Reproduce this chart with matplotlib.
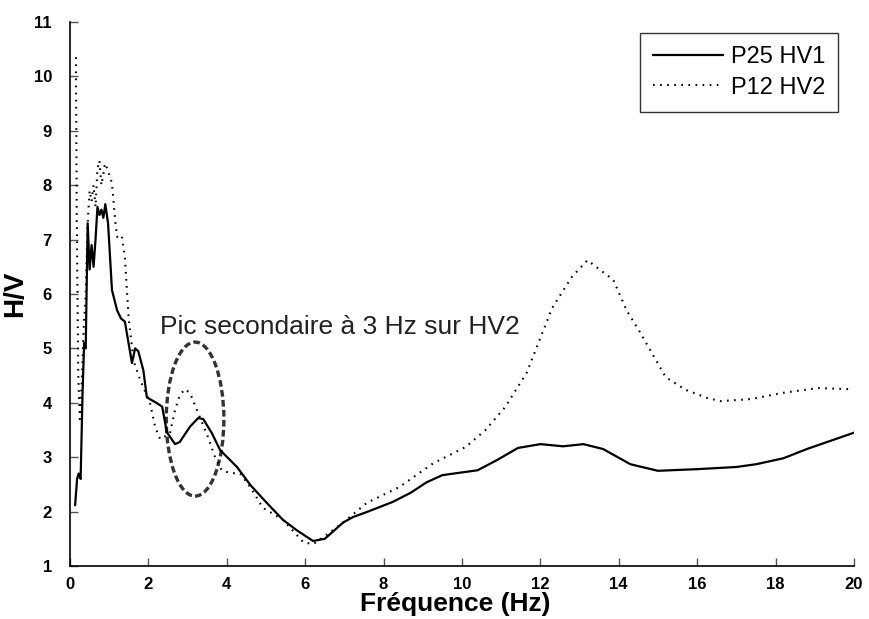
import matplotlib
matplotlib.use("Agg")
import matplotlib.pyplot as plt
from matplotlib.patches import Ellipse

freq_hv1 = [0.13, 0.18, 0.22, 0.27, 0.32, 0.36, 0.4, 0.45, 0.5, 0.55, 0.6, 0.65, 0.7, 0.75, 0.8,
            0.85, 0.9, 0.97, 1.07, 1.2, 1.3, 1.4, 1.48, 1.58, 1.66, 1.74, 1.87, 1.96, 2.2, 2.35,
            2.47, 2.68, 2.8, 3.06, 3.27, 3.4, 3.62, 3.83, 4.26, 4.6, 5.02, 5.43, 5.78, 6.2, 6.5,
            6.97, 7.22, 7.6, 8.24, 8.7, 9.1, 9.5, 10.4, 10.9, 11.43, 12.0, 12.58, 13.1, 13.6,
            14.3, 15.0, 16.0, 17.0, 17.5, 18.2, 18.8, 19.4, 20.0]
hv1 = [2.12, 2.6, 2.7, 2.6, 4.2, 5.1, 5.0, 7.3, 6.45, 6.9, 6.5, 7.0, 7.6, 7.45, 7.55,
       7.4, 7.65, 7.3, 6.07, 5.7, 5.55, 5.49, 5.15, 4.73, 5.0, 4.95, 4.6, 4.1, 4.0, 3.93,
       3.46, 3.24, 3.28, 3.56, 3.72, 3.7, 3.44, 3.13, 2.82, 2.49, 2.16, 1.85, 1.66, 1.46, 1.5,
       1.8, 1.9, 2.0, 2.18, 2.35, 2.54, 2.67, 2.76, 2.95, 3.17, 3.24, 3.2, 3.24, 3.15,
       2.87, 2.75, 2.78, 2.82, 2.87, 2.98, 3.15, 3.3, 3.45]

freq_hv2 = [0.15, 0.16, 0.17, 0.19, 0.21, 0.25, 0.3, 0.35, 0.4, 0.45, 0.5, 0.55, 0.6, 0.65, 0.7,
            0.75, 0.8, 0.85, 0.89, 0.95, 1.07, 1.15, 1.2, 1.32, 1.4, 1.45, 1.5, 1.58, 1.62, 1.8,
            2.04, 2.17, 2.3, 2.55, 2.68, 2.8, 2.93, 3.06, 3.27, 3.52, 3.7, 3.87, 4.08, 4.34,
            4.6, 4.92, 5.43, 5.95, 6.2, 6.5, 6.97, 7.57, 8.4, 9.27, 10.1, 10.6, 11.1, 11.65,
            11.95, 12.3, 12.8, 13.2, 13.86, 14.2, 14.54, 14.92, 15.2, 15.7, 16.25, 16.6, 17.4,
            18.16, 19.08, 19.9]
hv2 = [10.35, 9.0, 7.5, 6.0, 4.5, 3.7, 4.4, 5.4, 6.0, 7.3, 7.9, 7.7, 8.0, 7.6, 8.3,
       8.45, 8.0, 8.2, 8.4, 8.3, 8.04, 7.36, 7.05, 7.08, 6.68, 6.07, 5.52, 5.03, 4.77, 4.4,
       4.0, 3.56, 3.33, 3.44, 3.87, 4.14, 4.25, 4.18, 3.81, 3.37, 3.0, 2.76, 2.71, 2.7,
       2.45, 2.07, 1.85, 1.44, 1.4, 1.55, 1.8, 2.16, 2.45, 2.89, 3.19, 3.5, 3.92, 4.55,
       5.1, 5.74, 6.31, 6.62, 6.26, 5.7, 5.3, 4.82, 4.47, 4.24, 4.09, 4.03, 4.07,
       4.18, 4.27, 4.25]

x_ticks = [0, 2, 4, 6, 8, 10, 12, 14, 16, 18, 20]
y_ticks = [1, 2, 3, 4, 5, 6, 7, 8, 9, 10, 11]

fig = plt.figure(figsize=(8.7, 6.19), dpi=100)
ax = fig.add_axes([0.0805, 0.0856, 0.901, 0.879])

ax.plot(freq_hv1, hv1, color="black", lw=1.6, label="P25 HV1")
ax.plot(freq_hv2, hv2, color="black", lw=1.5, linestyle=(0, (0.8, 2.6)), label="P12 HV2")

ax.set_xlim(0, 20)
ax.set_ylim(1, 11)
ax.set_xticks(x_ticks)
ax.set_yticks(y_ticks)
for s in ["top", "right"]:
    ax.spines[s].set_visible(False)
ax.spines["left"].set_linewidth(1.2)
ax.spines["bottom"].set_linewidth(1.2)
ax.tick_params(axis="both", direction="in", length=6, width=1, color="#555555")
ax.tick_params(axis="x", pad=8)
ax.tick_params(axis="y", pad=13)
for lab in ax.get_xticklabels():
    lab.set_fontfamily("Liberation Sans")
    lab.set_fontweight("bold")
    lab.set_fontsize(12)
for lab in ax.get_yticklabels():
    lab.set_fontfamily("Liberation Sans")
    lab.set_fontweight("bold")
    lab.set_fontsize(12)

fig.text(0.523, 0.0045, "Fréquence (Hz)", fontfamily="Liberation Sans", fontweight="bold",
         fontsize=19, ha="center", va="bottom")
ax.set_ylabel("H/V", fontfamily="Liberation Sans", fontweight="bold", fontsize=20, labelpad=4)

ell = Ellipse((3.19, 3.70), 1.47, 2.83, fill=False, edgecolor="#333333", lw=2.4,
              linestyle=(0, (2.0, 1.0)))
ax.add_patch(ell)
ax.text(2.3, 5.39, "Pic secondaire à 3 Hz sur HV2", fontfamily="Liberation Sans",
        fontsize=19, va="center", ha="left", color="#222222")

leg = ax.legend(loc="upper right", bbox_to_anchor=(0.9796, 0.979), frameon=True, fancybox=False,
                prop={"family": "Liberation Sans", "size": 17}, handlelength=3.0,
                borderpad=0.55, labelspacing=0.35, handletextpad=0.3, borderaxespad=0)
leg.get_frame().set_edgecolor("black")
leg.get_frame().set_linewidth(1.0)

fig.savefig("out.png", dpi=100)
